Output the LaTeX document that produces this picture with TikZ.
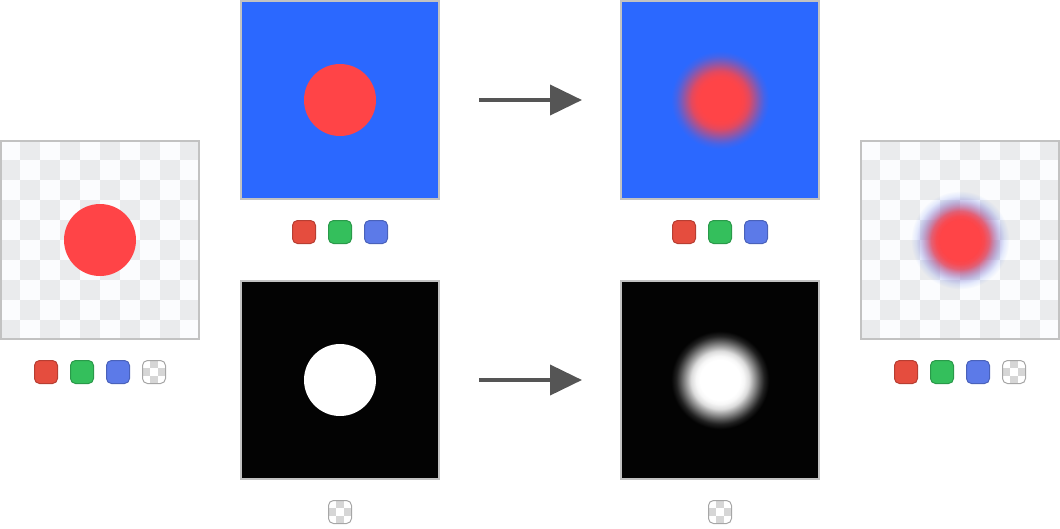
\documentclass[tikz,border=0pt]{standalone}
\usetikzlibrary{arrows.meta,fadings}
\definecolor{cRed}{RGB}{255,68,71}
\definecolor{cBlue}{RGB}{43,104,255}
\definecolor{cBlack}{RGB}{3,3,3}
\definecolor{cWhite}{RGB}{255,255,255}
\definecolor{chkW}{RGB}{251,252,254}
\definecolor{chkG}{RGB}{234,235,237}
\definecolor{frameC}{RGB}{194,194,194}
\definecolor{arrowC}{RGB}{85,85,85}
\definecolor{swR}{RGB}{229,77,62}
\definecolor{swG}{RGB}{52,191,92}
\definecolor{swB}{RGB}{92,122,232}
\definecolor{swChkG}{RGB}{214,214,214}
% blur profile mixes
\colorlet{rbA}{cRed!97!cBlue}
\colorlet{rbB}{cRed!86!cBlue}
\colorlet{rbC}{cRed!70!cBlue}
\colorlet{rbD}{cRed!50!cBlue}
\colorlet{rbE}{cRed!30!cBlue}
\colorlet{rbF}{cRed!12!cBlue}
\colorlet{wbA}{cWhite!97!cBlack}
\colorlet{wbB}{cWhite!86!cBlack}
\colorlet{wbC}{cWhite!70!cBlack}
\colorlet{wbD}{cWhite!50!cBlack}
\colorlet{wbE}{cWhite!30!cBlack}
\colorlet{wbF}{cWhite!12!cBlack}
\colorlet{faA}{white!97!black}
\colorlet{faB}{white!86!black}
\colorlet{faC}{white!70!black}
\colorlet{faD}{white!50!black}
\colorlet{faE}{white!30!black}
\colorlet{faF}{white!12!black}
% stops: 25bp corresponds to the path radius (50pt)
\pgfdeclareradialshading{blurRB}{\pgfpoint{0bp}{0bp}}{color(0bp)=(cRed); color(10bp)=(cRed); color(12bp)=(rbA); color(14.5bp)=(rbB); color(16bp)=(rbC); color(18bp)=(rbD); color(20bp)=(rbE); color(22bp)=(rbF); color(24.5bp)=(cBlue); color(50bp)=(cBlue)}
\pgfdeclareradialshading{blurWB}{\pgfpoint{0bp}{0bp}}{color(0bp)=(cWhite); color(10bp)=(cWhite); color(12bp)=(wbA); color(14.5bp)=(wbB); color(16bp)=(wbC); color(18bp)=(wbD); color(20bp)=(wbE); color(22bp)=(wbF); color(24.5bp)=(cBlack); color(50bp)=(cBlack)}
\pgfdeclareradialshading{fadeShade}{\pgfpoint{0bp}{0bp}}{color(0bp)=(white); color(10bp)=(white); color(12bp)=(faA); color(14.5bp)=(faB); color(16bp)=(faC); color(18bp)=(faD); color(20bp)=(faE); color(22bp)=(faF); color(24.5bp)=(black); color(50bp)=(black)}
\pgfdeclarefading{blurFade}{\pgfuseshading{fadeShade}}
\tikzset{
  panel/.style={draw=frameC, line width=2pt, minimum size=198pt, inner sep=0pt, outer sep=0pt},
  dot/.style={circle, inner sep=0pt, minimum size=72pt},
  swatch/.style={rounded corners=5pt, line width=1pt, minimum size=23pt, inner sep=0pt},
  conn/.style={draw=arrowC, line width=4pt, -{Triangle[length=32pt,width=30pt]}},
}
\newcommand{\chkpanel}[2]{% left x, top y (pixels)
  \fill[chkW] (#1,-#2) rectangle ++(200,-200);
  \foreach \i in {0,...,9}{\foreach \j in {0,...,9}{%
    \pgfmathtruncatemacro\pp{mod(\i+\j,2)}%
    \ifnum\pp=1 \fill[chkG] (#1+\i*20,-#2-\j*20) rectangle ++(20,-20);\fi}}}
\newcommand{\chksw}[3]{% name, cx, cy
  \begin{scope}
    \clip[rounded corners=5pt] (#2-11.5,-#3+11.5) rectangle (#2+11.5,-#3-11.5);
    \fill[white] (#2-12,-#3+12) rectangle (#2+12,-#3-12);
    \foreach \i in {0,1,2}{\foreach \j in {0,1,2}{%
      \pgfmathtruncatemacro\pp{mod(\i+\j,2)}%
      \ifnum\pp=1 \fill[swChkG] (#2-12+\i*8,-#3+12-\j*8) rectangle ++(8,-8);\fi}}
  \end{scope}
  \node[swatch, draw=black!35] (#1) at (#2,-#3) {};}
\begin{document}
\begin{tikzpicture}[x=1pt,y=-1pt]
\useasboundingbox (0,0) rectangle (1060,528);
% left input panel
\begin{scope}[y=1pt]
\chkpanel{0}{140}
\end{scope}
\node[panel] (inP) at (100,240) {};
\node[dot, fill=cRed] (inDot) at (inP.center) {};
% top middle
\node[panel, fill=cBlue] (rgbP) at (340,100) {};
\node[dot, fill=cRed] (rgbDot) at (rgbP.center) {};
% bottom middle
\node[panel, fill=cBlack] (aP) at (340,380) {};
\node[dot, fill=cWhite] (aDot) at (aP.center) {};
% top right blurred
\node[panel, fill=cBlue] (rgbB) at (720,100) {};
\shade[shading=blurRB] (rgbB.center) circle (50pt);
\node[panel] (rgbBf) at (720,100) {};
% bottom right blurred
\node[panel, fill=cBlack] (aB) at (720,380) {};
\shade[shading=blurWB] (aB.center) circle (50pt);
\node[panel] (aBf) at (720,380) {};
% right output
\begin{scope}[y=1pt]
\chkpanel{860}{140}
\end{scope}
\shade[shading=blurRB, path fading=blurFade] (960,240) circle (50pt);
\node[panel] (outP) at (960,240) {};
% arrows
\coordinate (a1s) at (479,100);
\coordinate (a1e) at (582,100);
\coordinate (a2s) at (479,380);
\coordinate (a2e) at (582,380);
\draw[conn] (a1s) -- (a1e);
\draw[conn] (a2s) -- (a2e);
% swatches
\begin{scope}[y=1pt]
\node[swatch, fill=swR, draw=swR!80!black] (s1r) at (46,-372) {};
\node[swatch, fill=swG, draw=swG!80!black] (s1g) at (82,-372) {};
\node[swatch, fill=swB, draw=swB!80!black] (s1b) at (118,-372) {};
\chksw{s1a}{154}{372}
\node[swatch, fill=swR, draw=swR!80!black] (s2r) at (304,-232) {};
\node[swatch, fill=swG, draw=swG!80!black] (s2g) at (340,-232) {};
\node[swatch, fill=swB, draw=swB!80!black] (s2b) at (376,-232) {};
\chksw{s3a}{340}{512}
\node[swatch, fill=swR, draw=swR!80!black] (s4r) at (684,-232) {};
\node[swatch, fill=swG, draw=swG!80!black] (s4g) at (720,-232) {};
\node[swatch, fill=swB, draw=swB!80!black] (s4b) at (756,-232) {};
\chksw{s5a}{720}{512}
\node[swatch, fill=swR, draw=swR!80!black] (s6r) at (906,-372) {};
\node[swatch, fill=swG, draw=swG!80!black] (s6g) at (942,-372) {};
\node[swatch, fill=swB, draw=swB!80!black] (s6b) at (978,-372) {};
\chksw{s6a}{1014}{372}
\end{scope}
\end{tikzpicture}
\end{document}
